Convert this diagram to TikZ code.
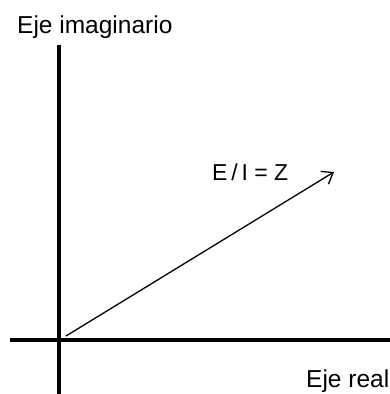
\documentclass[tikz,border=0pt]{standalone}
\usepackage{fontspec}
\setmainfont{Liberation Sans}
\usetikzlibrary{arrows.meta}
\tikzset{
  axis/.style={line width=4.5pt, black},
  vec/.style={line width=1.3pt, -{Straight Barb[length=10pt,width=15pt,line width=1.3pt]}},
  lbl/.style={inner sep=0pt, anchor=base west, font=\fontsize{24.5}{29}\selectfont},
  eqlbl/.style={lbl, font=\fontsize{23}{28}\selectfont}
}
\begin{document}
\begin{tikzpicture}[x=1pt,y=-1pt]
\useasboundingbox (0,0) rectangle (390,394);
\coordinate (vtop) at (59,45);
\coordinate (vbot) at (59,394);
\coordinate (hleft) at (10,340);
\coordinate (hright) at (390,340);
\coordinate (o) at (66,336);
\coordinate (tip) at (334,172);
\draw[axis] (vtop) -- (vbot);
\draw[axis] (hleft) -- (hright);
\draw[vec] (o) -- (tip);
\node[lbl] (yl) at (17,33) {Eje imaginario};
\node[lbl] (xl) at (306,387) {Eje real};
\node[eqlbl] (zl) at (212,180) {E\,/\,I = Z};
\end{tikzpicture}
\end{document}
